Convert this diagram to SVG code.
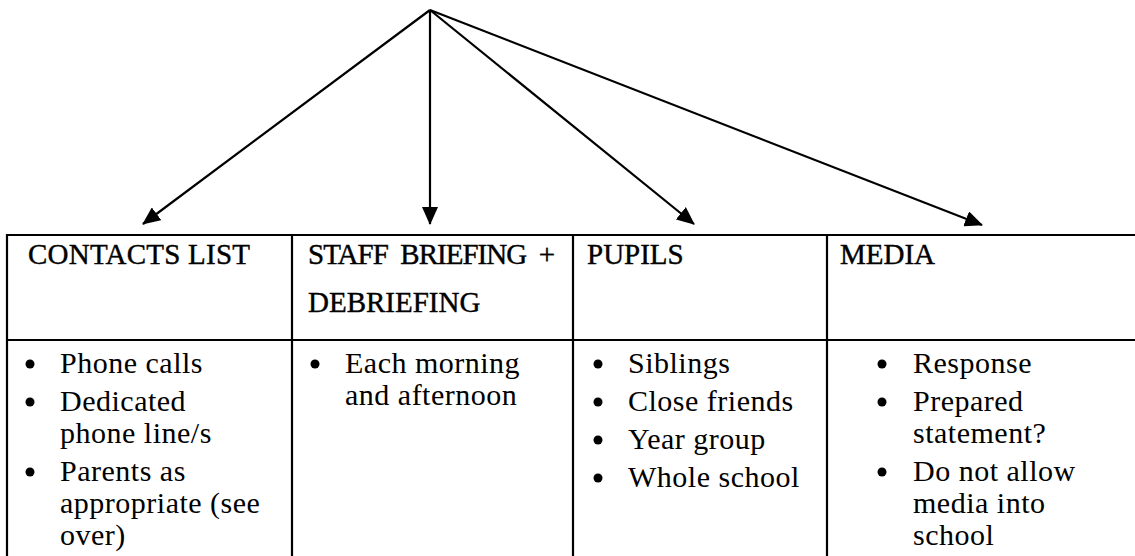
<svg xmlns="http://www.w3.org/2000/svg" width="1135" height="556" viewBox="0 0 1135 556">
<defs>
<marker id="ah" markerUnits="userSpaceOnUse" markerWidth="18" markerHeight="16" refX="17" refY="8" orient="auto">
<path d="M0,0 L18,8 L0,16 z" fill="#000"/>
</marker>
<style>
.ln{stroke:#000;stroke-width:2.2;fill:none}
.cn{stroke:#000;stroke-width:2.2;fill:none;marker-end:url(#ah)}
.hd{font-family:"Liberation Serif",serif;font-size:29px;fill:#000;stroke:#000;stroke-width:0.4}
.bd{font-family:"Liberation Serif",serif;font-size:30px;letter-spacing:0.5px;fill:#000}
</style>
</defs>
<rect width="1135" height="556" fill="#fff"/>
<g id="connectors">
<line class="cn" x1="430" y1="10" x2="143" y2="224"/>
<line class="cn" x1="430" y1="10" x2="430" y2="224"/>
<line class="cn" x1="430" y1="10" x2="694" y2="224"/>
<line class="cn" x1="430" y1="10" x2="982" y2="225"/>
</g>
<g id="table">
<line class="ln" x1="7" y1="235" x2="1135" y2="235"/>
<line class="ln" x1="7" y1="340" x2="1135" y2="340"/>
<line class="ln" x1="7" y1="234" x2="7" y2="556"/>
<line class="ln" x1="292" y1="234" x2="292" y2="556"/>
<line class="ln" x1="573" y1="234" x2="573" y2="556"/>
<line class="ln" x1="827" y1="234" x2="827" y2="556"/>
</g>
<g id="contacts">
<text class="hd" x="28" y="264" textLength="222" lengthAdjust="spacing">CONTACTS LIST</text>
<circle cx="30" cy="364" r="4.5"/><text class="bd" x="60" y="373">Phone calls</text>
<circle cx="30" cy="402" r="4.5"/><text class="bd" x="60" y="411">Dedicated</text>
<text class="bd" x="60" y="443">phone line/s</text>
<circle cx="30" cy="472" r="4.5"/><text class="bd" x="60" y="481">Parents as</text>
<text class="bd" x="60" y="513">appropriate (see</text>
<text class="bd" x="60" y="545">over)</text>
</g>
<g id="staff">
<text class="hd" x="308" y="264" xml:space="preserve" textLength="247" lengthAdjust="spacing">STAFF  BRIEFING  +</text>
<text class="hd" x="308" y="312">DEBRIEFING</text>
<circle cx="315" cy="364" r="4.5"/><text class="bd" x="345" y="373">Each morning</text>
<text class="bd" x="345" y="405">and afternoon</text>
</g>
<g id="pupils">
<text class="hd" x="587" y="264">PUPILS</text>
<circle cx="598" cy="364" r="4.5"/><text class="bd" x="628" y="373">Siblings</text>
<circle cx="598" cy="402" r="4.5"/><text class="bd" x="628" y="411">Close friends</text>
<circle cx="598" cy="440" r="4.5"/><text class="bd" x="628" y="449">Year group</text>
<circle cx="598" cy="478" r="4.5"/><text class="bd" x="628" y="487">Whole school</text>
</g>
<g id="media">
<text class="hd" x="840" y="264">MEDIA</text>
<circle cx="882" cy="364" r="4.5"/><text class="bd" x="913" y="373">Response</text>
<circle cx="882" cy="402" r="4.5"/><text class="bd" x="913" y="411">Prepared</text>
<text class="bd" x="913" y="443">statement?</text>
<circle cx="882" cy="472" r="4.5"/><text class="bd" x="913" y="481">Do not allow</text>
<text class="bd" x="913" y="513">media into</text>
<text class="bd" x="913" y="545">school</text>
</g>
</svg>
